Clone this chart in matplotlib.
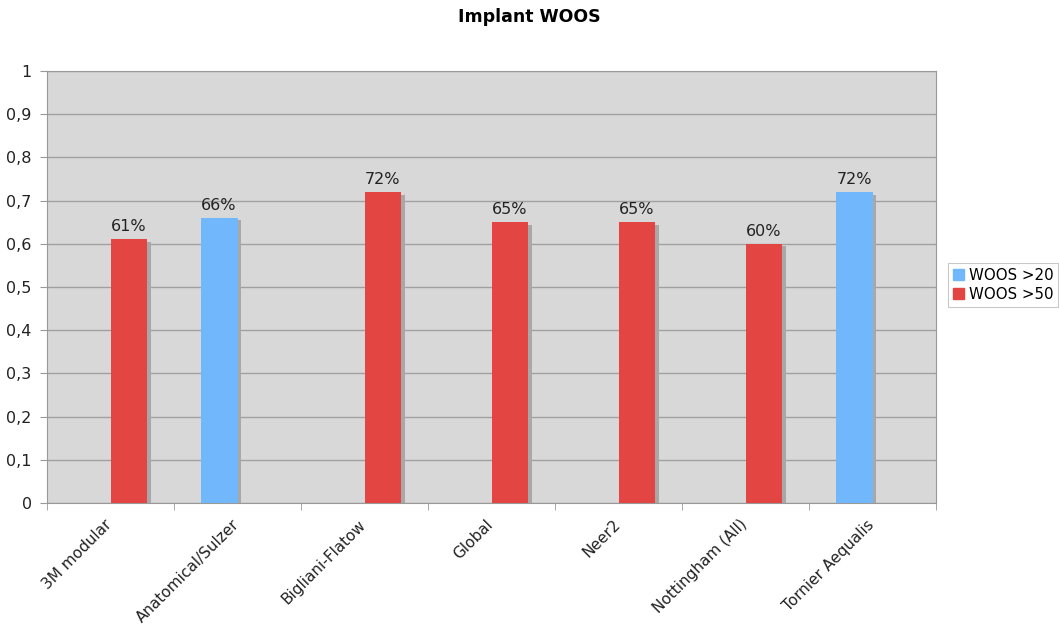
import numpy as np
import matplotlib
matplotlib.use('Agg')
import matplotlib.pyplot as plt
import matplotlib.transforms as mtransforms
from matplotlib.patches import Patch

plt.rcParams['font.family'] = ['DejaVu Sans']

categories = ['3M modular', 'Anatomical/Sulzer', 'Bigliani-Flatow', 'Global',
              'Neer2', 'Nottingham (All)', 'Tornier Aequalis']
woos20 = [np.nan, 0.66, np.nan, np.nan, np.nan, np.nan, 0.72]
woos50 = [0.61, np.nan, 0.72, 0.65, 0.65, 0.60, np.nan]
yticks = [0, 0.1, 0.2, 0.3, 0.4, 0.5, 0.6, 0.7, 0.8, 0.9, 1]

blue = '#70b8fb'
red = '#e34543'

fig = plt.figure(figsize=(10.59, 6.25), dpi=100)
ax = fig.add_axes([47/1059, 1 - 503/625, (936-47)/1059, (503-71)/625])
ax.set_facecolor('#d8d8d8')

x = np.arange(len(categories))
w = 0.29
dx, dy = 0.025, 0.006

for vals, off, col in [(woos20, -w/2, blue), (woos50, w/2, red)]:
    v = np.array(vals)
    ax.bar(x + off + dx, v, w, bottom=-dy, color='#a8a8a8', zorder=2)
    ax.bar(x + off, v, w, color=col, zorder=3)
    for xi, vi in zip(x, v):
        if not np.isnan(vi):
            ax.text(xi + off, vi + 0.012, '%d%%' % round(vi*100), ha='center',
                    va='bottom', fontsize=11.5, color='#222222', zorder=4)

ax.set_xlim(-0.5, len(categories) - 0.5)
ax.set_ylim(0, 1)
ax.set_yticks(yticks)
ax.set_yticklabels([('%g' % t).replace('.', ',') for t in yticks], fontsize=11.5, color='#222222')
ax.yaxis.grid(True, color='#a0a0a0', linewidth=1, zorder=1)
ax.set_axisbelow(True)

ax.set_xticks(x)
ax.set_xticklabels(categories, rotation=45, ha='right', rotation_mode='anchor',
                   fontsize=11, color='#222222')
ax.tick_params(axis='x', length=0, pad=10)
shift = mtransforms.ScaledTranslation(-6/100, 0, fig.dpi_scale_trans)
for lab in ax.get_xticklabels():
    lab.set_transform(lab.get_transform() + shift)
ax.set_xticks(np.arange(len(categories) + 1) - 0.5, minor=True)
ax.tick_params(axis='x', which='minor', length=5, color='#999999')
ax.tick_params(axis='y', length=5, color='#999999', pad=6)
for s in ax.spines.values():
    s.set_color('#999999')

fig.text(0.5, 1 - 17/625, 'Implant WOOS', ha='center', va='center',
         fontsize=12.5, fontweight='bold')

handles = [Patch(color=blue, label='WOOS >20'), Patch(color=red, label='WOOS >50')]
leg = fig.legend(handles=handles, loc='upper left', bbox_to_anchor=(948/1059, 1 - 263/625),
                 fontsize=10.8, frameon=True, fancybox=False, handlelength=0.75,
                 handleheight=0.75, handletextpad=0.35, borderpad=0.3, labelspacing=0.3,
                 borderaxespad=0)
leg.get_frame().set_edgecolor('#bbbbbb')
leg.get_frame().set_linewidth(0.8)

fig.savefig('out.png', dpi=100)
